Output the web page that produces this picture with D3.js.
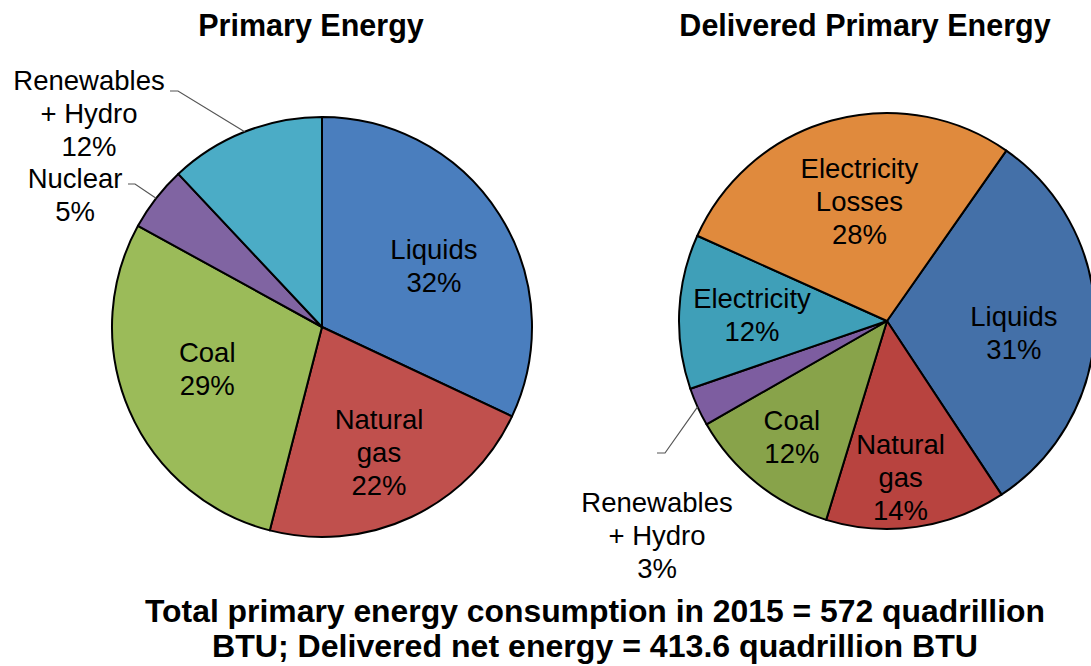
<!DOCTYPE html>
<html>
<head>
<meta charset="utf-8">
<script src="https://cdn.jsdelivr.net/npm/d3@7"></script>
<style>
  body { margin: 0; background: #fff; }
  text { font-family: "Liberation Sans", Arial, sans-serif; fill: #000; }
</style>
</head>
<body>
<div id="chart"></div>
<script>
const width = 1091
const height = 666

// data
const primaryLabels = ["Liquids", "Natural\ngas", "Coal", "Nuclear", "Renewables\n+ Hydro"]
const primaryValues = [32, 22, 29, 5, 12]
const deliveredLabels = ["Liquids", "Natural\ngas", "Coal", "Renewables\n+ Hydro", "Electricity", "Electricity\nLosses"]
const deliveredValues = [31, 14, 12, 3, 12, 28]
const titles = ["Primary Energy", "Delivered Primary Energy"]
const footLines = ["Total primary energy consumption in 2015 = 572 quadrillion", "BTU; Delivered net energy = 413.6 quadrillion BTU"]

const primaryColors = ["#4a7ebe", "#c0504d", "#9bbb59", "#8064a2", "#4bacc6"]
const deliveredColors = ["#4470a8", "#b8433f", "#88a34a", "#7d5da0", "#3f9fb8", "#e08a3d"]

const svg = d3.select("div#chart").append("svg").attr("width", width).attr("height", height)

const lineH = 33
const fontSize = 27.5

function drawPie(cfg) {
    const g = svg.append("g").attr("transform", `translate(${cfg.cx}, ${cfg.cy})`)
    const pie = d3.pie().sort(null).value(d => d)
        .startAngle(cfg.start * Math.PI / 180).endAngle(cfg.start * Math.PI / 180 + 2 * Math.PI)
    const arcs = pie(cfg.values)
    const arc = d3.arc().innerRadius(0).outerRadius(cfg.r)

    g.selectAll("path.slice").data(arcs).enter().append("path")
        .attr("class", "slice")
        .attr("d", arc)
        .attr("fill", (d, i) => cfg.colors[i])
        .attr("stroke", "#000")
        .attr("stroke-width", 2)
        .attr("stroke-linejoin", "round")

    arcs.forEach((d, i) => {
        const lines = cfg.labels[i].split("\n").concat([cfg.values[i] + "%"])
        const out = cfg.outside[i]
        let x, y
        if (out) {
            // leader line from slice edge to label
            const mid = (d.startAngle + d.endAngle) / 2
            const ex = cfg.r * Math.sin(mid), ey = -cfg.r * Math.cos(mid)
            g.append("path")
                .attr("d", `M${ex},${ey}L${out.kx},${out.ky}L${out.kx + out.hook},${out.ky}`)
                .attr("fill", "none").attr("stroke", "#555").attr("stroke-width", 1.2)
            x = out.tx
            y = out.ty
        } else {
            const k = cfg.labelR[i] * cfg.r
            const la = d3.arc().innerRadius(k).outerRadius(k)
            const c = la.centroid(d)
            const nudge = cfg.nudge[i] || [0, 0]
            x = c[0] + nudge[0]
            y = c[1] - (lines.length - 1) * lineH / 2 + nudge[1]
        }
        const t = g.append("text").attr("text-anchor", "middle").style("font-size", fontSize + "px")
        lines.forEach((s, j) => {
            t.append("tspan").attr("x", x).attr("y", y + j * lineH).attr("dy", "0.35em").text(s)
        })
    })
}

drawPie({
    cx: 322, cy: 327, r: 210, start: 0,
    values: primaryValues, labels: primaryLabels, colors: primaryColors,
    labelR: [0.62, 0.66, 0.58, 0, 0],
    nudge: [[2, 9], [-2, 0], [-3, -6]],
    outside: [null, null, null,
        {kx: -187, ky: -143, hook: -7, tx: -247, ty: -149},
        {kx: -144, ky: -236, hook: -8, tx: -233, ty: -247}]
})

drawPie({
    cx: 887, cy: 321, r: 208, start: 35,
    values: deliveredValues, labels: deliveredLabels, colors: deliveredColors,
    labelR: [0.61, 0.76, 0.71, 0, 0.65, 0.59],
    nudge: [[0, 10], [-9, 0], [-3, 0], null, [0, 0], [5, -1]],
    outside: [null, null, null,
        {kx: -222, ky: 132, hook: -8, tx: -230, ty: 181},
        null, null]
})

// titles
svg.selectAll("text.title").data(titles).enter().append("text")
    .attr("class", "title")
    .attr("x", (d, i) => i === 0 ? 311 : 865)
    .attr("y", 36)
    .attr("text-anchor", "middle")
    .style("font-size", "30.5px").style("font-weight", "bold")
    .text(d => d)

// footnote
const footW = [900, 766]
svg.selectAll("text.foot").data(footLines).enter().append("text")
    .attr("class", "foot")
    .attr("x", (d, i) => 595 - footW[i] / 2)
    .attr("y", (d, i) => 622 + i * 35)
    .attr("textLength", (d, i) => footW[i])
    .attr("lengthAdjust", "spacingAndGlyphs")
    .style("font-size", "31px").style("font-weight", "bold")
    .text(d => d)
</script>
</body>
</html>
